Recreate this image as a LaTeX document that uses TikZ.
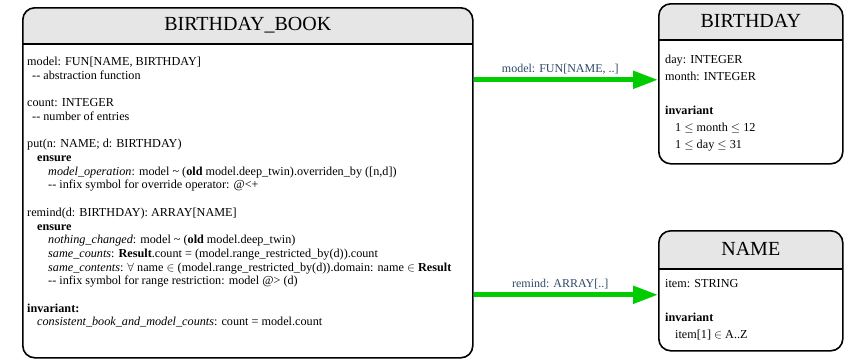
\documentclass[tikz,border=0pt]{standalone}
\usepackage{fontspec}
\setmainfont{Liberation Serif}
\usetikzlibrary{arrows.meta}

\definecolor{headgray}{RGB}{230,230,230}
\definecolor{flowgreen}{RGB}{0,204,0}
\definecolor{labelblue}{RGB}{47,72,105}
\newcommand{\dd}{\mbox{-}\mbox{-}}

\begin{document}
\begin{tikzpicture}[x=1pt,y=-1pt,
    classbox/.style={draw,line width=1.6pt,rounded corners=12pt,inner sep=0pt,anchor=north west,
      path picture={
        \fill[headgray,sharp corners] (path picture bounding box.north west) rectangle ([yshift=-#1]path picture bounding box.north east);
        \draw[line width=1.6pt,sharp corners] ([yshift=-#1]path picture bounding box.north west) -- ([yshift=-#1]path picture bounding box.north east);}},
    classtitle/.style={font=\fontsize{20}{24}\selectfont},
    members/.style={align=left,anchor=north west,inner sep=0pt,font=\fontsize{12.2}{13.7}\selectfont},
    smallmembers/.style={members,font=\fontsize{12.2}{17}\selectfont},
    flow/.style={draw=flowgreen,line width=5pt,-{Triangle[length=25pt,width=17pt]}},
    flowlabel/.style={pos=0.47,above=0pt,text=labelblue,font=\fontsize{12}{14}\selectfont}]
    \useasboundingbox (0,0) rectangle (844,359);

    % Classes
    \node[classbox=36pt,minimum width=450pt,minimum height=350pt] (book) at (22,7) {};
    \node[classbox=36pt,minimum width=184pt,minimum height=160pt] (bday) at (658,3) {};
    \node[classbox=38pt,minimum width=184pt,minimum height=120pt] (name) at (658,230) {};

    % Titles
    \node[classtitle] (booktitle) at ([yshift=-18pt]book.north) {BIRTHDAY\_BOOK};
    \node[classtitle] (bdaytitle) at ([yshift=-18pt]bday.north) {BIRTHDAY};
    \node[classtitle] (nametitle) at ([yshift=-19pt]name.north) {NAME};

    % Features
    \node[members] (bookfeatures) at ([xshift=5pt,yshift=-50pt]book.north west) {%
      model: FUN[NAME, BIRTHDAY]\\
      \hspace*{5pt}\dd{} abstraction function\\[13.7pt]
      count: INTEGER\\
      \hspace*{5pt}\dd{} number of entries\\[13.7pt]
      put(n: NAME; d: BIRTHDAY)\\
      \hspace*{10pt}\textbf{ensure}\\
      \hspace*{21pt}\textit{model\_operation}: model \textasciitilde{} (\textbf{old} model.deep\_twin).overriden\_by ([n,d])\\
      \hspace*{21pt}\dd{} infix symbol for override operator: @<+\\[13.7pt]
      remind(d: BIRTHDAY): ARRAY[NAME]\\
      \hspace*{10pt}\textbf{ensure}\\
      \hspace*{21pt}\textit{nothing\_changed}: model \textasciitilde{} (\textbf{old} model.deep\_twin)\\
      \hspace*{21pt}\textit{same\_counts}: \textbf{Result}.count = (model.range\_restricted\_by(d)).count\\
      \hspace*{21pt}\textit{same\_contents}: $\forall$ name $\in$ (model.range\_restricted\_by(d)).domain: name $\in$ \textbf{Result}\\
      \hspace*{21pt}\dd{} infix symbol for range restriction: model @> (d)\\[13.7pt]
      \textbf{invariant:}\\
      \hspace*{10pt}\textit{consistent\_book\_and\_model\_counts}: count = model.count};
    \node[smallmembers] (bdayfeatures) at ([xshift=7pt,yshift=-52pt]bday.north west) {%
      day: INTEGER\\
      month: INTEGER\\[17pt]
      \textbf{invariant}\\
      \hspace*{10pt}1 $\leq$ month $\leq$ 12\\
      \hspace*{10pt}1 $\leq$ day $\leq$ 31};
    \node[smallmembers] (namefeatures) at ([xshift=7pt,yshift=-49pt]name.north west) {%
      item: STRING\\[17pt]
      \textbf{invariant}\\
      \hspace*{10pt}item[1] $\in$ A..Z};

    % Associations
    \coordinate (bdayin) at ([yshift=4pt]bday.west);
    \coordinate (namein) at ([yshift=-4pt]name.west);
    \draw[flow] (bdayin -| book.east) -- (bdayin) node[flowlabel] {model: FUN[NAME, ..]};
    \draw[flow] (namein -| book.east) -- (namein) node[flowlabel] {remind: ARRAY[..]};
\end{tikzpicture}
\end{document}
